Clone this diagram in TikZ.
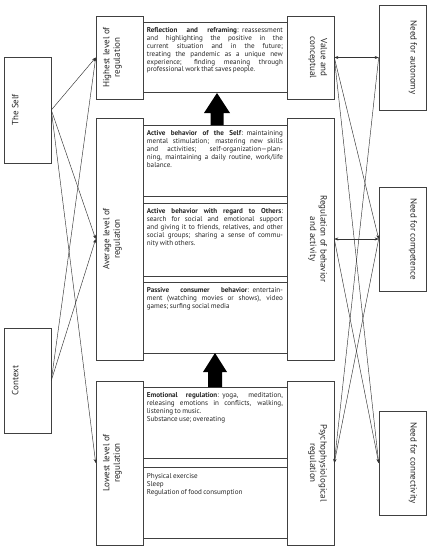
\documentclass[tikz,border=0pt]{standalone}
\usepackage{fontspec}
\setmainfont{PT Sans}
\usetikzlibrary{arrows.meta,calc}
\newcommand\jl[1]{\hbox to 136pt{\spaceskip=0.2em plus 2em minus 0.05em\relax #1}\par}
\newcommand\nl[1]{\hbox{\spaceskip=0.2em plus 2em minus 0.05em\relax #1}\par}
\begin{document}
\begin{tikzpicture}[x=1pt,y=-1pt,
  box/.style={draw=black!75, line width=0.6pt, inner sep=0pt},
  txt/.style={inner sep=0pt, anchor=north west, text width=136pt, align=left,
    font=\fontsize{7.1}{7.8}\selectfont, text=black!85},
  vtxt/.style={inner sep=0pt, anchor=north, align=center,
    font=\fontsize{9}{10.7}\selectfont, text=black!85},
  conn/.style={draw=black!80, line width=0.45pt, -{Stealth[length=4pt,width=3pt]}},
  dconn/.style={draw=black!80, line width=0.45pt, {Stealth[length=4pt,width=3pt]}-{Stealth[length=4pt,width=3pt]}}
]
\useasboundingbox[fill=white] (0,0) rectangle (433,550);

% left column
\node[box, minimum width=47, minimum height=106] (Self) at (27.5,110) {};
\node[box, minimum width=47, minimum height=105] (Context) at (27.5,380.5) {};
\node[box, minimum width=47, minimum height=83] (Highest) at (119.5,57.5) {};
\node[box, minimum width=47, minimum height=242] (Average) at (119.5,239) {};
\node[box, minimum width=47, minimum height=164] (Lowest) at (119.5,463) {};

% middle column
\node[box, minimum width=144, minimum height=70] (Reflection) at (215,57) {};
\node[box, minimum width=144, minimum height=71] (ActiveSelf) at (215,160.5) {};
\node[box, minimum width=144, minimum height=73] (Others) at (215,239.5) {};
\node[box, minimum width=144, minimum height=71] (Passive) at (215,317.5) {};
\node[box, minimum width=144, minimum height=71] (Emotional) at (215,422.5) {};
\node[box, minimum width=144, minimum height=71] (Physical) at (215,502.5) {};

% right columns
\node[box, minimum width=47, minimum height=83] (Value) at (310.5,57.5) {};
\node[box, minimum width=47, minimum height=242] (Regulation) at (310.5,239) {};
\node[box, minimum width=47, minimum height=164] (Psycho) at (310.5,463) {};
\node[box, minimum width=47, minimum height=105] (Autonomy) at (402.5,57.5) {};
\node[box, minimum width=47, minimum height=104] (Competence) at (402.5,239) {};
\node[box, minimum width=47, minimum height=104] (Connectivity) at (402.5,463) {};

% rotated labels
\node[vtxt, rotate=90] (tSelf) at ($(Self.west)+(8,0)$) {The Self};
\node[vtxt, rotate=90] (tContext) at ($(Context.west)+(8,0)$) {Context};
\node[vtxt, rotate=90] (tHighest) at ($(Highest.west)+(7,0)$) {Highest level of\\regulation};
\node[vtxt, rotate=90] (tAverage) at ($(Average.west)+(7,0)$) {Average level of\\regulation};
\node[vtxt, rotate=90] (tLowest) at ($(Lowest.west)+(7,0)$) {Lowest level of\\regulation};
\node[vtxt, rotate=-90] (tValue) at ($(Value.east)+(-7,0)$) {Value and\\conceptual};
\node[vtxt, rotate=-90] (tRegulation) at ($(Regulation.east)+(-7,0)$) {Regulation of behavior\\and activity};
\node[vtxt, rotate=-90] (tPsycho) at ($(Psycho.east)+(-7,0)$) {Psychophysiological\\regulation};
\node[vtxt, rotate=-90] (tAutonomy) at ($(Autonomy.east)+(-9,0)$) {Need for autonomy};
\node[vtxt, rotate=-90] (tCompetence) at ($(Competence.east)+(-9,0)$) {Need for competence};
\node[vtxt, rotate=-90] (tConnectivity) at ($(Connectivity.east)+(-9,0)$) {Need for connectivity};

% middle texts
\node[txt] (tRefl) at ($(Reflection.north west)+(4,6)$) {%
\jl{\textbf{Reflection and reframing}: reassessment}%
\jl{and highlighting the positive in the}%
\jl{current situation and in the future;}%
\jl{treating the pandemic as a unique new}%
\jl{experience; finding meaning through}%
\nl{professional work that saves people.}};
\node[txt] (tActiveSelf) at ($(ActiveSelf.north west)+(4,6)$) {%
\jl{\textbf{Active behavior of the Self}: maintaining}%
\jl{mental stimulation; mastering new skills}%
\jl{and activities; self-organization—plan-}%
\jl{ning, maintaining a daily routine, work/life}%
\nl{balance.}};
\node[txt] (tOthers) at ($(Others.north west)+(4,6)$) {%
\jl{\textbf{Active behavior with regard to Others}:}%
\jl{search for social and emotional support}%
\jl{and giving it to friends, relatives, and other}%
\jl{social groups; sharing a sense of commu-}%
\nl{nity with others.}};
\node[txt] (tPassive) at ($(Passive.north west)+(4,6)$) {%
\jl{\textbf{Passive consumer behavior}: entertain-}%
\jl{ment (watching movies or shows), video}%
\nl{games; surfing social media}};
\node[txt] (tEmotional) at ($(Emotional.north west)+(4,6)$) {%
\jl{\textbf{Emotional regulation}: yoga, meditation,}%
\jl{releasing emotions in conflicts, walking,}%
\nl{listening to music.}%
\nl{Substance use; overeating}};
\node[txt] (tPhysical) at ($(Physical.north west)+(4,6.5)$) {%
\nl{Physical exercise}%
\nl{Sleep}%
\nl{Regulation of food consumption}};

% thick arrows
\fill[black] (210.5,125) -- (210.5,113) -- (204,113) -- (217,93) -- (230,113) -- (223.5,113) -- (223.5,125) -- cycle;
\fill[black] (208,387) -- (208,372) -- (203,372) -- (215,353) -- (227,372) -- (222,372) -- (222,387) -- cycle;

% left connectors
\draw[conn] (Self.east) -- (Highest.west);
\draw[conn] (Self.east) -- (Average.west);
\draw[conn] (Self.east) -- (Lowest.west);
\draw[conn] (Context.east) -- (Highest.west);
\draw[conn] (Context.east) -- (Average.west);

% right connectors
\draw[dconn] (Value.east) -- (Autonomy.west);
\draw[dconn] (Regulation.east) -- (Competence.west);
\draw[conn] (Value.east) -- (Competence.west);
\draw[conn] (Value.east) -- (Connectivity.west);
\draw[conn] (Autonomy.west) -- (Psycho.east);
\draw[conn] (Regulation.east) -- (Connectivity.west);
\draw[conn] (Competence.west) -- (Psycho.east);
\end{tikzpicture}
\end{document}
